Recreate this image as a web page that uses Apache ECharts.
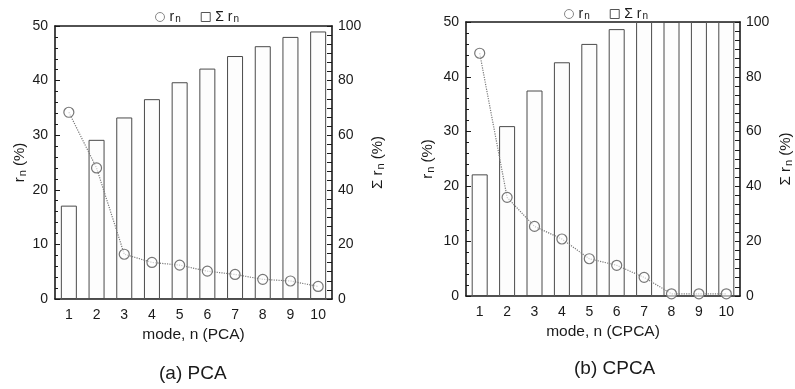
<!DOCTYPE html>
<html>
<head>
<meta charset="utf-8">
<script src="https://cdn.jsdelivr.net/npm/echarts@6/dist/echarts.min.js"></script>
<style>
  html, body { margin: 0; padding: 0; background: #fff; }
  #chart { width: 795px; height: 389px; }
</style>
</head>
<body>
<div id="chart"></div>
<script>
// Mode numbers shared by both panels
const modes = ['1', '2', '3', '4', '5', '6', '7', '8', '9', '10'];

// (a) PCA: share of each mode r_n (%) and cumulative share Σ r_n (%)
const pcaRate = [34.2, 24.0, 8.2, 6.7, 6.2, 5.1, 4.5, 3.6, 3.3, 2.3];
const pcaCum = [34.2, 58.3, 66.5, 73.2, 79.4, 84.4, 89.0, 92.6, 96.0, 98.0];

// (b) CPCA: share of each mode r_n (%) and cumulative share Σ r_n (%)
const cpcaRate = [44.3, 18.0, 12.7, 10.4, 6.8, 5.6, 3.4, 0.4, 0.4, 0.4];
const cpcaCum = [44.4, 62.0, 75.0, 85.3, 92.0, 97.4, 100, 100, 100, 100];

// Axis tick settings
const rateAxis = { min: 0, max: 50, interval: 10 };
const cumAxis = { min: 0, max: 100, interval: 20 };

const FONT = 'Liberation Sans, Arial, sans-serif';
const INK = '#1a1a1a';

const rich = {
  r: { fontSize: 15, fontFamily: FONT, color: INK },
  s: { fontSize: 11, fontFamily: FONT, color: INK, padding: [6, 0, 0, 1] }
};

function xAxes(grid, nameText, nameGap) {
  const common = {
    type: 'category', gridIndex: grid, data: modes, boundaryGap: true,
    axisLine: { onZero: false, lineStyle: { color: INK, width: 1.6 } },
    axisTick: { inside: true, alignWithLabel: true, length: 4, lineStyle: { color: INK, width: 1 } },
    splitLine: { show: false }
  };
  return [
    Object.assign({}, common, {
      position: 'bottom',
      axisLabel: { fontSize: 14, fontFamily: FONT, color: INK, margin: 9 },
      name: nameText, nameLocation: 'middle', nameGap: nameGap,
      nameTextStyle: { fontSize: 15.5, fontFamily: FONT, color: INK }
    }),
    Object.assign({}, common, { position: 'top', axisLabel: { show: false } })
  ];
}

function yAxes(grid, leftGap, rightGap) {
  return [
    {
      type: 'value', gridIndex: grid, position: 'left',
      min: rateAxis.min, max: rateAxis.max, interval: rateAxis.interval,
      axisLine: { show: true, onZero: false, lineStyle: { color: INK, width: 1.6 } },
      axisTick: { show: true, inside: true, length: 5, lineStyle: { color: INK, width: 1 } },
      minorTick: { show: true, splitNumber: 5, length: 3, lineStyle: { color: INK, width: 1 } },
      splitLine: { show: false },
      axisLabel: { fontSize: 14, fontFamily: FONT, color: INK, margin: 7 },
      name: '{r|r}{s|n}{r| (%)}', nameLocation: 'middle', nameRotate: 90, nameGap: leftGap,
      nameTextStyle: { rich: rich }
    },
    {
      type: 'value', gridIndex: grid, position: 'right',
      min: cumAxis.min, max: cumAxis.max, interval: cumAxis.interval,
      axisLine: { show: true, onZero: false, lineStyle: { color: INK, width: 1.6 } },
      axisTick: { show: true, inside: true, length: 5, lineStyle: { color: INK, width: 1 } },
      minorTick: { show: true, splitNumber: 6, length: 5, lineStyle: { color: INK, width: 1 } },
      splitLine: { show: false },
      axisLabel: { fontSize: 14, fontFamily: FONT, color: INK, margin: 6 },
      name: '{r|Σ r}{s|n}{r| (%)}', nameLocation: 'middle', nameRotate: 90, nameGap: rightGap,
      nameTextStyle: { rich: rich }
    }
  ];
}

function barSeries(name, data, axisBase) {
  return {
    name: name, type: 'bar', xAxisIndex: axisBase, yAxisIndex: axisBase + 1,
    data: data, barWidth: 16, z: 2,
    itemStyle: { color: '#fdfdfd', borderColor: '#4a4a4a', borderWidth: 1 }
  };
}

function lineSeries(name, data, axisBase) {
  return {
    name: name, type: 'line', xAxisIndex: axisBase, yAxisIndex: axisBase,
    data: data, symbol: 'circle', symbolSize: 10, z: 5,
    lineStyle: { color: '#7a7a7a', width: 1.2, type: 'dotted' },
    itemStyle: { color: 'rgba(255,255,255,0.6)', borderColor: '#777', borderWidth: 1.2 }
  };
}

function legend(left, top, rateName, cumName) {
  return {
    left: left, top: top, itemWidth: 9, itemHeight: 9, itemGap: 20,
    selectedMode: false,
    data: [
      { name: rateName, icon: 'circle', itemStyle: { color: '#fff', borderColor: '#888', borderWidth: 1 } },
      { name: cumName, icon: 'rect', itemStyle: { color: '#fff', borderColor: '#555', borderWidth: 1 } }
    ],
    formatter: function (n) {
      return n.indexOf('cum') >= 0 ? '{r|Σ r}{s|n}' : '{r|r}{s|n}';
    },
    textStyle: {
      rich: {
        r: { fontSize: 14, fontFamily: FONT, color: INK },
        s: { fontSize: 10, fontFamily: FONT, color: INK, padding: [5, 0, 0, 1] }
      }
    }
  };
}

const chart = echarts.init(document.getElementById('chart'));
chart.setOption({
  backgroundColor: '#ffffff',
  animation: false,
  grid: [
    { left: 55, top: 26, width: 277, height: 273 },
    { left: 466, top: 22, width: 276, height: 274 }
  ],
  legend: [
    legend(150, 5, 'rate a', 'cum a'),
    legend(559, 2, 'rate b', 'cum b')
  ],
  xAxis: xAxes(0, 'mode, n (PCA)', 26).concat(xAxes(1, 'mode, n (CPCA)', 23)),
  yAxis: yAxes(0, 26, 37).concat(yAxes(1, 30, 37)),
  series: [
    barSeries('cum a', pcaCum, 0),
    lineSeries('rate a', pcaRate, 0),
    barSeries('cum b', cpcaCum, 2),
    lineSeries('rate b', cpcaRate, 2)
  ],
  graphic: [
    { type: 'text', left: 197 - 38, top: 364, style: { text: '(a) PCA', fontSize: 19, fontFamily: FONT, fill: INK } },
    { type: 'text', left: 617 - 43, top: 359, style: { text: '(b) CPCA', fontSize: 19, fontFamily: FONT, fill: INK } }
  ]
});
</script>
</body>
</html>
